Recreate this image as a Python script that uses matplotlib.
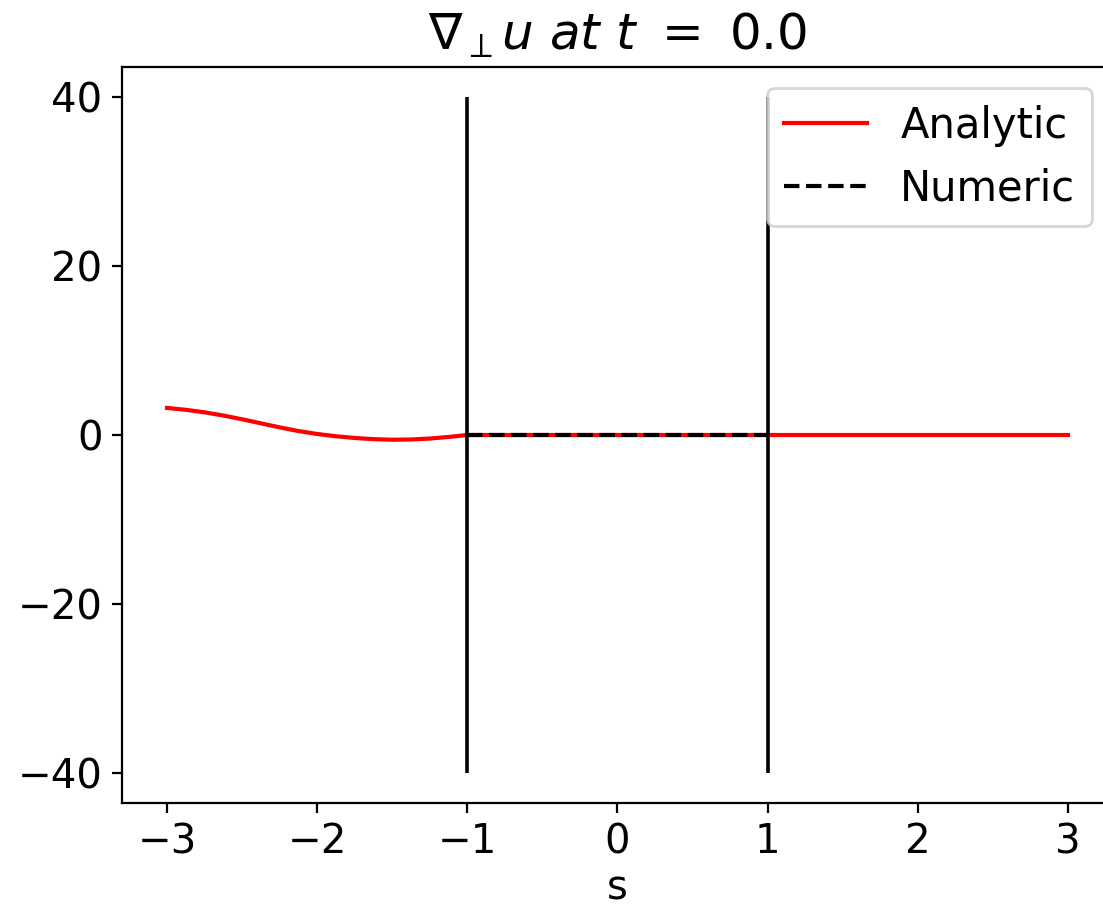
import matplotlib
matplotlib.use('Agg')
import matplotlib.pyplot as plt

# analytic curve
s_analytic = [-3.0, -2.875, -2.75, -2.625, -2.5, -2.375, -2.25, -2.125, -2.0,
              -1.875, -1.75, -1.625, -1.5, -1.375, -1.25, -1.125, -1.0,
              0.0, 1.0, 2.0, 3.0]
u_analytic = [3.2, 2.98, 2.68, 2.3, 1.86, 1.38, 0.9, 0.47, 0.12,
              -0.15, -0.35, -0.49, -0.56, -0.53, -0.42, -0.23, 0.0,
              0.0, 0.0, 0.0, 0.0]

# numeric solution only lives on [-1, 1]
s_numeric = [-1.0, -0.5, 0.0, 0.5, 1.0]
u_numeric = [0.0, 0.0, 0.0, 0.0, 0.0]

# domain boundaries
bounds = [-1, 1]
bound_lo, bound_hi = -40, 40

yticks = [-40, -20, 0, 20, 40]

t = 0.0

plt.rcParams['font.size'] = 14.5

fig = plt.figure(figsize=(1103/200, 908/200), dpi=200)
ax = fig.add_axes([122/1103, 105/908, 991/1103, 736/908])

ax.plot(s_analytic, u_analytic, 'r', label='Analytic')
ax.plot(s_numeric, u_numeric, 'k--', label='Numeric')
ax.vlines(bounds, bound_lo, bound_hi, color='k', linewidth=1.3)

ax.set_xlim(-3.3, 3.3)
ax.set_ylim(-43.5, 43.5)
ax.set_yticks(yticks)
ax.set_xlabel('s', labelpad=2)
ax.set_title(r'$\nabla_\perp u\ at\ t\ =\ %s$' % t, fontsize=18)
ax.legend(loc='upper right', fontsize=15)

fig.savefig('out.png', dpi=200)
